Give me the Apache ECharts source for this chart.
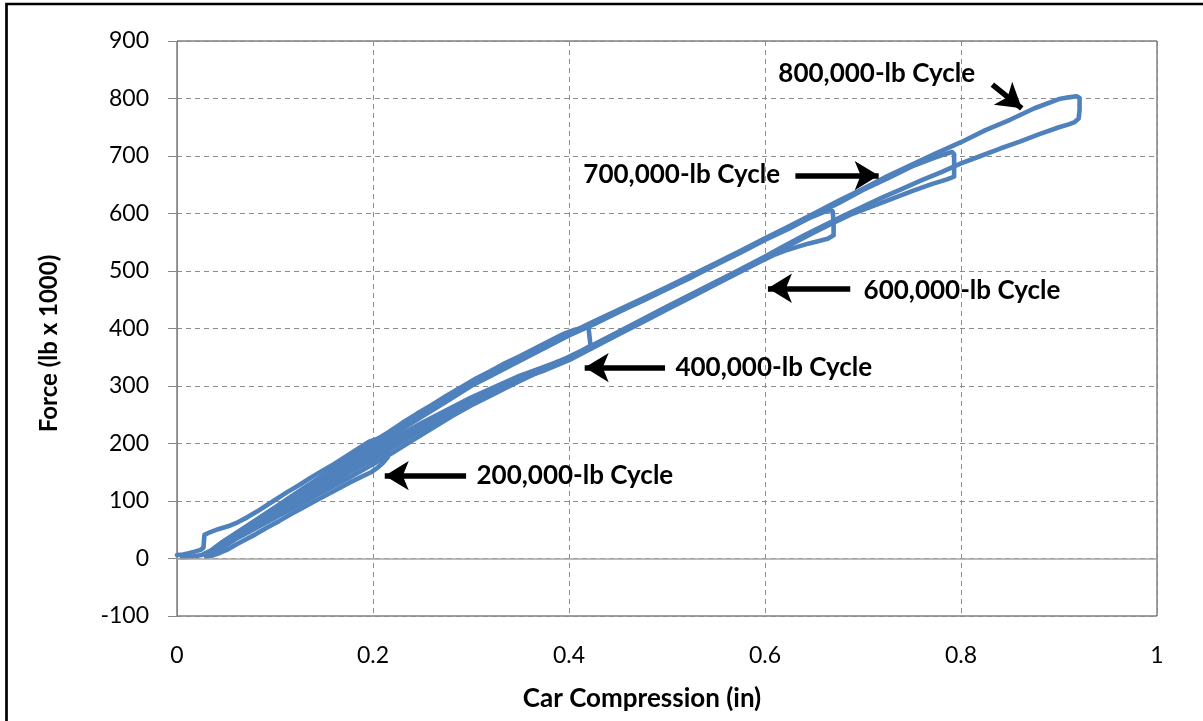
<!DOCTYPE html>
<html>
<head>
<meta charset="utf-8">
<script src="https://cdn.jsdelivr.net/npm/echarts@6/dist/echarts.min.js"></script>
<style>
html,body{margin:0;padding:0;background:#fff;}
#chart{width:1203px;height:721px;}
</style>
</head>
<body>
<div id="chart"></div>
<script>
// ---- Data (Car Compression in, Force lb x 1000) ----
const xTicks = [0, 0.2, 0.4, 0.6, 0.8, 1];
const yTicks = [-100, 0, 100, 200, 300, 400, 500, 600, 700, 800, 900];

const cycle200k = [
  [0.000,6],[0.006,7],[0.012,9],[0.018,12],[0.024,15],[0.027,19],[0.0275,30],[0.028,41],
  [0.034,46],[0.042,51],[0.052,56],[0.062,63],[0.072,72],[0.082,82],[0.092,93],[0.102,104],
  [0.112,115],[0.124,127],[0.136,140],[0.148,152],[0.160,164],[0.172,177],[0.184,190],
  [0.196,203],[0.206,209],[0.212,209],[0.214,196],[0.215,176],
  [0.210,166],[0.204,157],[0.198,150],[0.188,142],[0.176,132],[0.164,121],[0.152,110],
  [0.140,99],[0.128,88],[0.116,77],[0.104,65],[0.092,54],[0.080,42],[0.070,33],
  [0.060,24],[0.052,16],[0.044,10],[0.036,5],[0.030,3]
];

const cycle400k = [
  [0.030,3],[0.036,10],[0.042,19],[0.050,30],[0.060,42],[0.072,55],[0.085,70],[0.098,85],
  [0.112,101],[0.126,118],[0.140,134],[0.155,151],[0.170,168],[0.185,185],[0.200,203],
  [0.215,219],[0.230,236],[0.245,252],[0.260,267],[0.275,283],[0.290,298],[0.305,313],
  [0.320,326],[0.335,340],[0.350,352],[0.365,365],[0.380,378],[0.395,391],[0.406,398],
  [0.416,402],[0.420,400],[0.421,385],[0.422,370],
  [0.414,362],[0.404,354],[0.392,344],[0.380,334],[0.366,322],[0.350,309],[0.335,296],
  [0.320,283],[0.300,266],[0.280,247],[0.260,226],[0.240,205],[0.220,184],[0.200,164],
  [0.180,145],[0.160,126],[0.140,108],[0.120,89],[0.100,71],[0.085,57],[0.072,45],
  [0.060,34],[0.050,23],[0.042,14],[0.035,7],[0.031,4]
];

const cycle600k = [
  [0.031,4],[0.037,12],[0.044,22],[0.052,33],[0.062,45],[0.074,59],[0.087,74],[0.100,89],
  [0.120,112],[0.140,134],[0.160,156],[0.180,177],[0.200,197],[0.225,223],[0.250,250],
  [0.275,276],[0.300,301],[0.325,324],[0.350,345],[0.375,366],[0.400,388],[0.425,407],
  [0.450,428],[0.475,449],[0.500,469],[0.525,490],[0.550,512],[0.575,533],[0.600,556],
  [0.625,576],[0.645,592],[0.658,601],[0.665,606],[0.669,604],[0.670,585],[0.670,562],
  [0.664,556],[0.655,552],[0.645,548],[0.633,542],[0.620,535],[0.608,527],[0.596,517],
  [0.575,499],[0.550,477],[0.525,455],[0.500,433],[0.475,411],[0.450,389],[0.425,367],
  [0.400,345],[0.375,327],[0.350,313],[0.325,292],[0.300,272],[0.275,248],[0.250,224],
  [0.225,198],[0.200,172],[0.175,149],[0.150,124],[0.125,100],[0.100,77],[0.085,63],
  [0.072,51],[0.060,39],[0.050,28],[0.043,18],[0.037,10],[0.032,5]
];

const cycle700k = [
  [0.033,5],[0.040,15],[0.050,28],[0.065,45],[0.080,61],[0.100,83],[0.125,111],
  [0.150,139],[0.175,167],[0.200,193],[0.225,220],[0.250,247],[0.275,273],[0.300,300],
  [0.325,322],[0.350,344],[0.375,366],[0.400,389],[0.425,408],[0.450,429],[0.475,448],
  [0.500,469],[0.525,489],[0.550,511],[0.575,532],[0.600,554],[0.625,574],[0.650,597],
  [0.675,618],[0.700,641],[0.725,661],[0.750,682],[0.770,695],[0.785,704],[0.791,707],
  [0.793,703],[0.793,684],[0.793,664],
  [0.785,659],[0.770,651],[0.750,639],[0.730,626],[0.710,613],[0.690,600],[0.670,584],
  [0.650,567],[0.630,549],[0.610,531],[0.580,506],[0.550,481],[0.500,438],[0.450,394],
  [0.400,350],[0.350,316],[0.300,276],[0.250,230],[0.200,180],[0.150,131],[0.120,104],
  [0.100,84],[0.080,63],[0.060,43],[0.045,27],[0.036,15],[0.030,6]
];

const cycle800k = [
  [0.030,6],[0.040,18],[0.050,31],[0.065,48],[0.080,65],[0.100,87],[0.125,115],
  [0.150,143],[0.175,171],[0.200,199],[0.225,227],[0.250,255],[0.275,281],[0.300,306],
  [0.325,328],[0.350,349],[0.375,370],[0.400,391],[0.425,412],[0.450,432],[0.475,452],
  [0.500,472],[0.525,493],[0.550,514],[0.575,535],[0.600,557],[0.625,578],[0.650,600],
  [0.675,622],[0.700,643],[0.725,665],[0.750,685],[0.775,705],[0.800,724],[0.825,745],
  [0.850,763],[0.875,783],[0.900,799],[0.910,802],[0.918,804],[0.921,801],[0.921,780],
  [0.920,765],[0.916,759],[0.910,755],
  [0.900,750],[0.880,738],[0.860,725],[0.840,713],[0.820,700],[0.800,687],[0.780,672],
  [0.760,658],[0.740,643],[0.720,628],[0.700,612],[0.680,596],[0.660,579],[0.640,562],
  [0.620,544],[0.600,525],[0.550,481],[0.500,437],[0.450,392],[0.400,349],[0.350,318],
  [0.300,280],[0.250,236],[0.200,188],[0.150,138],[0.120,108],[0.100,88],[0.080,66],
  [0.060,44],[0.045,27],[0.035,14],[0.025,6],[0.015,3],[0.005,2]
];

const cycles = [cycle200k, cycle400k, cycle600k, cycle700k, cycle800k];

const noteTexts = ['800,000-lb Cycle','700,000-lb Cycle','600,000-lb Cycle','400,000-lb Cycle','200,000-lb Cycle'];
const notePos   = [[0.714,843],[0.515,668],[0.801,466],[0.609,332],[0.406,144]];
const arrowFrom = [[0.832,824],[0.631,666],[0.687,470],[0.498,332],[0.295,144]];
const arrowTo   = [[0.862,783],[0.716,666],[0.603,470],[0.416,332],[0.212,144]];

// ---- Chart ----
const chart = echarts.init(document.getElementById('chart'), null, {renderer:'canvas'});
const FONT = 'Lato, "Open Sans", "Liberation Sans", sans-serif';
const blue = '#4f81bd';

const series = [];
series.push({
  type:'line', data:[], z:1, silent:true,
  markLine:{silent:true, animation:false, symbol:['none','none'], label:{show:false},
    lineStyle:{color:'#a6a6a6', width:1.5, type:'solid'},
    data:[{yAxis:0}]}
});
cycles.forEach(c => series.push({
  type:'line', data:c, showSymbol:false, symbol:'none', z:3,
  lineStyle:{color:blue, width:4.6, join:'round', cap:'round'},
  animation:false
}));
series.push({
  type:'line', data:[], z:5, silent:true,
  markLine:{silent:true, animation:false, symbol:['none','arrow'], symbolSize:[22,24],
    label:{show:false},
    lineStyle:{color:'#000', width:5.5, type:'solid'},
    data: arrowFrom.map((f,i)=>[{coord:f},{coord:arrowTo[i]}])},
  markPoint:{silent:true, animation:false, symbol:'rect', symbolSize:1,
    itemStyle:{color:'rgba(0,0,0,0)'},
    label:{show:true, position:'inside', color:'#000', fontWeight:'bold', fontSize:26, fontFamily:FONT,
      formatter: p => p.name},
    data: notePos.map((p,i)=>({name:noteTexts[i], coord:p}))}
});

chart.setOption({
  animation:false,
  backgroundColor:'#fff',
  graphic:[{type:'rect', shape:{x:6.5, y:4, width:1400, height:900},
    style:{fill:null, stroke:'#000', lineWidth:2.7}, z:0, silent:true}],
  grid:{left:177, right:46, top:41, bottom:105, show:true, borderColor:'#404040', borderWidth:1},
  xAxis:{
    type:'value', min:0, max:1, interval:0.2,
    name:'Car Compression (in)', nameLocation:'middle', nameGap:70,
    nameTextStyle:{fontSize:26, fontWeight:'bold', color:'#000', fontFamily:FONT, padding:[0,50,0,0]},
    axisLine:{show:false}, axisTick:{show:false},
    axisLabel:{margin:28, fontSize:23, color:'#000', fontFamily:FONT,
      formatter: v => xTicks.includes(+v.toFixed(1)) ? String(+v.toFixed(1)) : ''},
    splitLine:{show:true, lineStyle:{color:'#8c8c8c', type:[5,4], width:1}}
  },
  yAxis:{
    type:'value', min:-100, max:900, interval:100,
    name:'Force (lb x 1000)', nameLocation:'middle', nameGap:116, nameRotate:90,
    nameTextStyle:{fontSize:24, fontWeight:'bold', color:'#000', fontFamily:FONT, padding:[0,30,0,0]},
    axisLine:{show:true, lineStyle:{color:'#868686', width:1}},
    axisTick:{show:true, length:9, lineStyle:{color:'#868686'}},
    axisLabel:{margin:28, fontSize:23, color:'#000', fontFamily:FONT,
      formatter: v => yTicks.includes(v) ? String(v) : ''},
    splitLine:{show:true, lineStyle:{color:'#8c8c8c', type:[5,4], width:1}}
  },
  series: series
});
</script>
</body>
</html>
